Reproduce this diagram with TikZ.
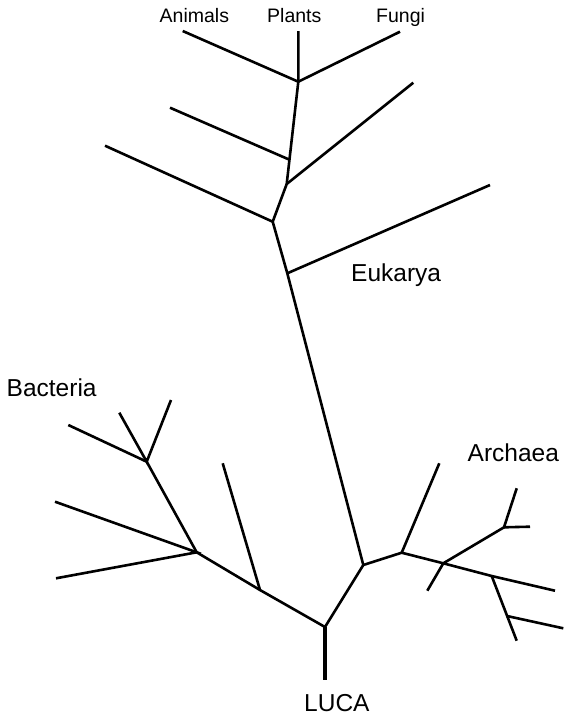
\documentclass[tikz,border=0pt]{standalone}
\usepackage{fontspec}
\setmainfont{Liberation Sans}
\begin{document}
\begin{tikzpicture}[
  x=1pt,y=-1pt,
  branch/.style={draw, line width=2.6pt},
  stem/.style={draw, line width=4.3pt},
  biglabel/.style={anchor=base west, inner sep=0pt, font=\fontsize{24.5}{28}\selectfont},
  smalllabel/.style={anchor=base west, inner sep=0pt, font=\fontsize{19.5}{23}\selectfont}
]

% Canvas: 564 x 718
\path[use as bounding box] (0,0) rectangle (564,718);

% Branch points
\coordinate (luca) at (325,627);
\coordinate (lucaend) at (325,680);
\coordinate (root) at (363.3,565);

% Eukarya
\coordinate (euk5) at (287.3,273.3);
\coordinate (euk4) at (272.7,221.7);
\coordinate (euk3) at (286.7,184);
\coordinate (euk2) at (289,159.5);
\coordinate (euk1) at (298.3,81.7);
\coordinate (animals) at (182.7,31);
\coordinate (plants) at (298.3,31);
\coordinate (fungi) at (400,31.7);
\coordinate (euk2tip) at (170,107.7);
\coordinate (euk3tip) at (413.3,82.7);
\coordinate (euk4tip) at (105,145.7);
\coordinate (euk5tip) at (490,185);

% Archaea
\coordinate (arc1) at (401.7,552.7);
\coordinate (arc2) at (443.3,563.3);
\coordinate (arc3) at (504,527.3);
\coordinate (arc4) at (491.7,576);
\coordinate (arc5) at (507,616);
\coordinate (arc1tip) at (439.3,463.3);
\coordinate (arc2tip) at (427.3,590.7);
\coordinate (arc3tipa) at (516.7,488.3);
\coordinate (arc3tipb) at (530,526.7);
\coordinate (arc4tip) at (555,590.7);
\coordinate (arc5tip) at (563.3,628.3);
\coordinate (arc5end) at (516.7,640.7);

% Bacteria
\coordinate (bac1) at (260,590);
\coordinate (bac2) at (196.7,552.3);
\coordinate (bac3) at (146.7,461.7);
\coordinate (bac1tip) at (222.7,463.3);
\coordinate (bac2tipa) at (55,501.7);
\coordinate (bac2tipb) at (56,578.3);
\coordinate (bac3tipa) at (68.3,425);
\coordinate (bac3tipb) at (119.3,412.7);
\coordinate (bac3tipc) at (171,400);

% Labels
\node[smalllabel] (lanimals) at (159.5,22.5) {Animals};
\node[smalllabel] (lplants) at (267,22.5) {Plants};
\node[smalllabel] (lfungi) at (376,22.5) {Fungi};
\node[biglabel] (leuk) at (351,281.7) {Eukarya};
\node[biglabel] (lbac) at (6.5,396) {Bacteria};
\node[biglabel] (larc) at (467.5,461) {Archaea};
\node[biglabel] (lluca) at (304,711.7) {LUCA};

% Root stem
\draw[stem] (luca) -- (lucaend);

% Eukarya trunk and branches
\draw[branch] (luca) -- (root) -- (euk5) -- (euk4) -- (euk3) -- (euk1) -- (plants);
\draw[branch] (animals) -- (euk1) -- (fungi);
\draw[branch] (euk2tip) -- (euk2);
\draw[branch] (euk3) -- (euk3tip);
\draw[branch] (euk4) -- (euk4tip);
\draw[branch] (euk5) -- (euk5tip);

% Archaea
\draw[branch] (root) -- (arc1) -- (arc2) -- (arc4) -- (arc4tip);
\draw[branch] (arc1) -- (arc1tip);
\draw[branch] (arc2tip) -- (arc2) -- (arc3) -- (arc3tipa);
\draw[branch] (arc3) -- (arc3tipb);
\draw[branch] (arc4) -- (arc5end);
\draw[branch] (arc5) -- (arc5tip);

% Bacteria
\draw[branch] (luca) -- (bac1) -- (bac2) -- (bac3) -- (bac3tipa);
\draw[branch] (bac1) -- (bac1tip);
\draw[branch] (bac2tipa) -- (bac2) -- (bac2tipb);
\draw[branch] (bac3tipb) -- (bac3) -- (bac3tipc);

\end{tikzpicture}
\end{document}
